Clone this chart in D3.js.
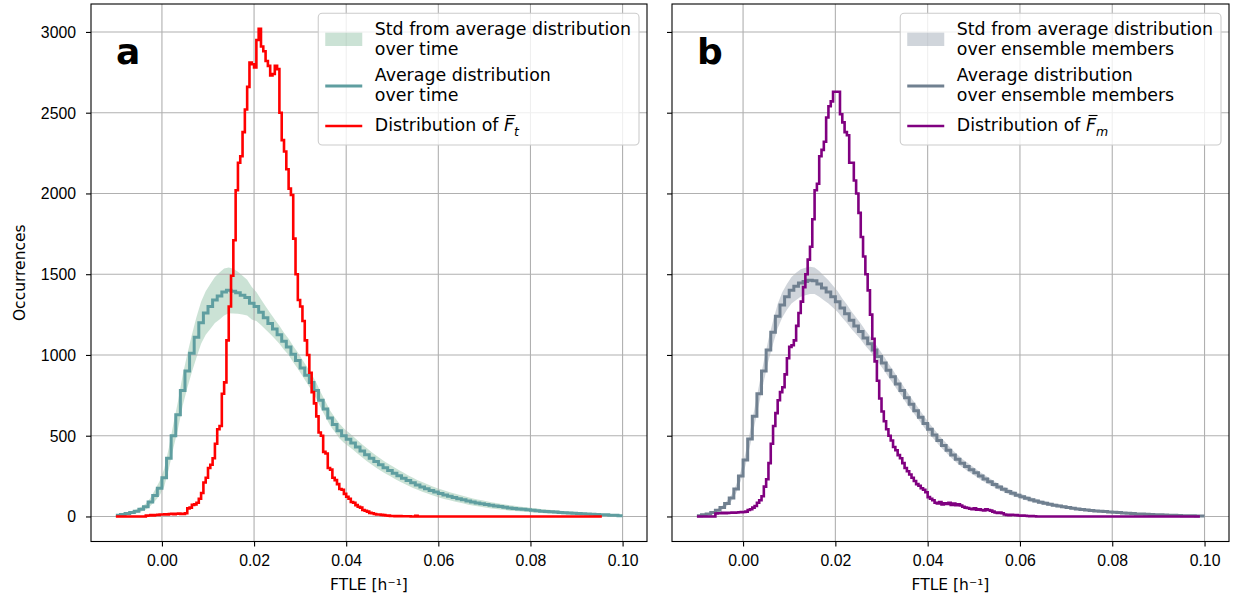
<!DOCTYPE html>
<html>
<head>
<meta charset="utf-8">
<script src="https://cdn.jsdelivr.net/npm/d3@7"></script>
<style>
  body { margin: 0; background: #fff; }
  svg { font-family: "DejaVu Sans", sans-serif; }
</style>
</head>
<body>
<svg id="chart" width="1235" height="599"></svg>
<script>
// histogram bins start at -0.01; fine bins for the single distributions, coarse for the averages
const binStart = -0.01;
const fineBin = 0.0005;
const coarseBin = 0.001;

// Distribution of F_t (panel a)
const redCounts = [
  0, 0, 0, 0, 0, 0, 0, 0, 0, 0,
  0, 0, 0, 5, 6, 8, 7, 9, 10, 12,
  12, 14, 13, 15, 16, 14, 17, 18, 16, 15,
  20, 50, 55, 72, 75, 85, 110, 145, 210, 240,
  300, 320, 360, 450, 540, 560, 760, 830, 1090, 1300,
  1490, 1710, 2020, 2190, 2230, 2380, 2520, 2660, 2810, 2800,
  2780, 2950, 3020, 2910, 2880, 2820, 2790, 2730, 2740, 2790,
  2770, 2500, 2330, 2260, 2150, 2030, 1990, 1720, 1500, 1340,
  1300, 1210, 1090, 1000, 890, 770, 700, 620, 520, 500,
  400, 390, 300, 290, 240, 225, 200, 170, 165, 140,
  122, 110, 90, 85, 70, 60, 55, 40, 35, 30,
  22, 20, 15, 12, 12, 10, 8, 6, 5, 3,
  3, 2, 2, 2, 1, 1, 1, 1, 0, 0,
  4, 0, 0, 0, 0, 0, 0, 0, 0, 0,
  0, 0, 0, 0, 0, 0, 0, 0, 0, 0,
  0, 0, 0, 0, 0, 0, 0, 0, 0, 0,
  0, 0, 0, 0, 0, 0, 0, 0, 0, 0,
  0, 0, 0, 0, 0, 0, 0, 0, 0, 0,
  0, 0, 0, 0, 0, 0, 0, 0, 0, 0,
  0, 0, 0, 0, 0, 0, 0, 0, 0, 0,
  0, 0, 0, 0, 0, 0, 0, 0, 0, 0,
  0
];

// Average distribution over time and its std (panel a)
const timeMean = [
  8, 12, 18, 25, 32, 45, 60, 90, 130, 175,
  240, 360, 500, 630, 780, 900, 1010, 1110, 1200, 1260,
  1300, 1340, 1365, 1390, 1400, 1395, 1385, 1370, 1355, 1320,
  1300, 1265, 1230, 1195, 1160, 1125, 1085, 1050, 1005, 965,
  920, 875, 830, 780, 720, 665, 610, 570, 530, 500,
  478, 455, 430, 405, 382, 360, 340, 320, 302, 285,
  268, 252, 237, 222, 208, 195, 183, 172, 161, 151,
  142, 133, 125, 117, 110, 103, 96, 90, 84, 79,
  74, 69, 65, 61, 57, 53, 50, 47, 44, 41,
  38, 36, 33, 31, 29, 27, 25, 23, 21, 20,
  18, 17, 15, 14, 12, 11, 10, 8, 7, 5
];
const timeStd = [
  5, 6, 8, 10, 12, 15, 18, 25, 35, 45,
  55, 65, 75, 85, 95, 105, 115, 125, 130, 135,
  140, 142, 145, 145, 142, 138, 130, 120, 110, 100,
  90, 80, 72, 65, 60, 56, 53, 51, 50, 50,
  50, 50, 50, 49, 48, 47, 46, 45, 45, 44,
  43, 42, 41, 40, 40, 39, 38, 37, 36, 35,
  35, 34, 33, 32, 31, 30, 30, 29, 28, 27,
  27, 26, 25, 25, 24, 23, 23, 22, 21, 21,
  20, 19, 19, 18, 17, 17, 16, 15, 15, 14,
  14, 13, 12, 12, 11, 11, 10, 10, 9, 9,
  8, 8, 7, 7, 6, 6, 5, 5, 4, 4
];

// Distribution of F_m (panel b)
const purpleCounts = [
  0, 0, 0, 0, 0, 0, 0, 0, 18, 20,
  20, 22, 21, 22, 23, 24, 24, 25, 26, 27,
  28, 30, 40, 45, 55, 65, 85, 100, 125, 185,
  230, 330, 450, 560, 640, 720, 770, 800, 880, 980,
  1050, 1060, 1090, 1180, 1260, 1330, 1420, 1500, 1590, 1670,
  1840, 2020, 2060, 2230, 2270, 2320, 2470, 2540, 2570, 2630,
  2630, 2630, 2490, 2440, 2380, 2360, 2190, 2190, 2080, 2000,
  1880, 1730, 1610, 1500, 1400, 1250, 1100, 960, 840, 730,
  650, 590, 540, 500, 470, 430, 410, 380, 360, 330,
  300, 280, 260, 240, 220, 200, 190, 175, 165, 150,
  120, 110, 100, 85, 80, 90, 75, 82, 78, 85,
  72, 80, 70, 75, 68, 60, 55, 52, 48, 45,
  50, 42, 45, 40, 38, 44, 40, 36, 30, 25,
  22, 24, 20, 12, 10, 8, 10, 9, 8, 6,
  5, 6, 4, 3, 2, 2, 1, 0, 0, 0,
  0, 0, 0, 0, 0, 0, 0, 0, 0, 0,
  0, 0, 0, 0, 0, 0, 0, 0, 0, 0,
  0, 0, 0, 0, 0, 0, 0, 0, 0, 0,
  0, 0, 0, 0, 0, 0, 0, 0, 0, 0,
  0, 0, 0, 0, 0, 0, 0, 0, 0, 0,
  0, 0, 0, 0, 0, 0, 0, 0, 0, 0,
  0, 0, 0, 0, 0, 0, 0, 0
];

// Average distribution over ensemble members and its std (panel b)
const memberMean = [
  5, 10, 16, 25, 38, 55, 80, 115, 170, 250,
  350, 480, 620, 760, 900, 1030, 1140, 1240, 1310, 1360,
  1400, 1425, 1445, 1455, 1462, 1460, 1440, 1415, 1390, 1360,
  1330, 1290, 1255, 1215, 1180, 1145, 1105, 1070, 1030, 990,
  950, 905, 865, 820, 780, 735, 695, 655, 615, 575,
  540, 505, 470, 440, 410, 380, 355, 330, 310, 290,
  270, 250, 232, 215, 198, 182, 168, 155, 143, 132,
  122, 113, 104, 96, 88, 82, 76, 70, 65, 60,
  55, 51, 47, 43, 40, 37, 34, 32, 30, 28,
  26, 24, 22, 20, 18, 16, 15, 14, 12, 11,
  10, 9, 8, 7, 6, 5, 5, 4, 3, 3
];
const memberStd = [
  4, 5, 6, 8, 10, 12, 15, 20, 25, 30,
  38, 45, 52, 58, 63, 68, 72, 75, 78, 80,
  82, 84, 85, 85, 84, 82, 80, 76, 72, 68,
  64, 60, 57, 54, 52, 50, 48, 46, 45, 44,
  43, 42, 41, 40, 39, 38, 37, 36, 35, 34,
  33, 32, 31, 30, 29, 28, 27, 26, 25, 24,
  23, 22, 21, 20, 19, 18, 17, 17, 16, 15,
  15, 14, 14, 13, 12, 12, 11, 11, 10, 10,
  9, 9, 9, 8, 8, 8, 7, 7, 7, 6,
  6, 6, 5, 5, 5, 5, 4, 4, 4, 4,
  3, 3, 3, 3, 3, 2, 2, 2, 2, 2
];

const xTicks = [0, 0.02, 0.04, 0.06, 0.08, 0.10];
const yTicks = [0, 500, 1000, 1500, 2000, 2500, 3000];

// turn bin counts into step points (last edge repeats the last count)
function toSteps(counts, width) {
  const pts = counts.map((c, i) => ({ x: binStart + i * width, y: c }));
  pts.push({ x: binStart + counts.length * width, y: counts[counts.length - 1] });
  return pts;
}

// band points sit on the bin centres
function toBand(mean, std, width) {
  return mean.map((m, i) => ({ x: binStart + (i + 0.5) * width, lo: m - std[i], hi: m + std[i] }));
}

class HistPanel {
  constructor(_config) {
    this.config = {
      left: _config.left,
      right: _config.right,
      top: 4,
      bottom: 541.5,
      letter: _config.letter,
      showYLabels: _config.showYLabels,
      bandColor: _config.bandColor,
      bandOpacity: _config.bandOpacity,
      meanColor: _config.meanColor,
      distColor: _config.distColor,
      legend: _config.legend
    };
    this.data = _config.data;
    this.initVis();
  }

  initVis() {
    let vis = this;
    vis.svg = d3.select('#chart');

    vis.x = d3.scaleLinear().domain([-0.0154, 0.1053]).range([vis.config.left, vis.config.right]);
    vis.y = d3.scaleLinear().domain([-155, 3173]).range([vis.config.bottom, vis.config.top]);

    vis.g = vis.svg.append('g');
    vis.renderVis();
    vis.renderAxes();
    vis.renderLegend();
  }

  renderVis() {
    let vis = this;
    const c = vis.config;

    const band = toBand(vis.data.mean, vis.data.std, coarseBin);
    const mean = toSteps(vis.data.mean, coarseBin);
    const dist = toSteps(vis.data.dist, fineBin);

    const area = d3.area()
      .x(d => vis.x(d.x))
      .y0(d => vis.y(d.lo))
      .y1(d => vis.y(d.hi));

    const line = d3.line()
      .x(d => vis.x(d.x))
      .y(d => vis.y(d.y))
      .curve(d3.curveStepAfter);

    vis.g.append('path')
      .attr('d', area(band))
      .attr('fill', c.bandColor)
      .attr('fill-opacity', c.bandOpacity);

    // grid
    vis.g.selectAll('.vgrid')
      .data(xTicks)
      .join('line')
      .attr('x1', d => vis.x(d)).attr('x2', d => vis.x(d))
      .attr('y1', c.top).attr('y2', c.bottom)
      .attr('stroke', '#b0b0b0').attr('stroke-width', 1.1);
    vis.g.selectAll('.hgrid')
      .data(yTicks)
      .join('line')
      .attr('x1', c.left).attr('x2', c.right)
      .attr('y1', d => vis.y(d)).attr('y2', d => vis.y(d))
      .attr('stroke', '#b0b0b0').attr('stroke-width', 1.1);

    vis.g.append('path')
      .attr('d', line(mean))
      .attr('fill', 'none')
      .attr('stroke', c.meanColor)
      .attr('stroke-width', 3);

    vis.g.append('path')
      .attr('d', line(dist))
      .attr('fill', 'none')
      .attr('stroke', c.distColor)
      .attr('stroke-width', 2.6);
  }

  renderAxes() {
    let vis = this;
    const c = vis.config;

    const xAxis = vis.g.append('g')
      .attr('transform', `translate(0,${c.bottom})`)
      .call(d3.axisBottom(vis.x).tickValues(xTicks).tickFormat(d3.format('.2f')).tickSize(5));
    xAxis.select('.domain').remove();
    xAxis.selectAll('line').attr('stroke', '#000').attr('stroke-width', 1.1);
    xAxis.selectAll('text')
      .attr('y', 24.5).attr('dy', 0)
      .style('font-size', '15.8px').attr('fill', '#000');

    const yAxis = vis.g.append('g')
      .attr('transform', `translate(${c.left},0)`)
      .call(d3.axisLeft(vis.y).tickValues(yTicks).tickSize(5).tickPadding(10)
        .tickFormat(d => c.showYLabels ? d : ''));
    yAxis.select('.domain').remove();
    yAxis.selectAll('line').attr('stroke', '#000').attr('stroke-width', 1.1);
    yAxis.selectAll('text')
      .attr('dy', '0.35em')
      .style('font-size', '15.8px').attr('fill', '#000');

    vis.g.append('rect')
      .attr('x', c.left).attr('y', c.top)
      .attr('width', c.right - c.left).attr('height', c.bottom - c.top)
      .attr('fill', 'none').attr('stroke', '#000').attr('stroke-width', 1.1);

    vis.g.append('text')
      .attr('x', (c.left + c.right) / 2)
      .attr('y', 590)
      .attr('text-anchor', 'middle')
      .style('font-size', '15.5px')
      .text('FTLE [h\u207B\u00B9]');

    if (c.showYLabels) {
      vis.g.append('text')
        .attr('transform', `translate(25,${(c.top + c.bottom) / 2}) rotate(-90)`)
        .attr('text-anchor', 'middle')
        .style('font-size', '15.5px')
        .text('Occurrences');
    }

    vis.g.append('text')
      .attr('x', c.left + 25)
      .attr('y', 64)
      .style('font-size', '36px')
      .style('font-weight', 'bold')
      .text(c.letter);
  }

  renderLegend() {
    let vis = this;
    const c = vis.config;
    const lg = vis.g.append('g');
    const box = lg.append('rect');
    const fs = '17.4px';

    const patchX = 0, textX = 49.5;
    const items = lg.append('g');

    // entry 1: std patch
    items.append('rect')
      .attr('x', patchX).attr('y', 32.7).attr('width', 37).attr('height', 13.3)
      .attr('fill', c.bandColor).attr('fill-opacity', c.bandOpacity);
    // entry 2: mean line
    items.append('line')
      .attr('x1', patchX).attr('x2', patchX + 37).attr('y1', 86).attr('y2', 86)
      .attr('stroke', c.meanColor).attr('stroke-width', 3);
    // entry 3: distribution line
    items.append('line')
      .attr('x1', patchX).attr('x2', patchX + 37).attr('y1', 126).attr('y2', 126)
      .attr('stroke', c.distColor).attr('stroke-width', 2.6);

    const lines = [
      [c.legend[0][0], 34.5], [c.legend[0][1], 54.5],
      [c.legend[1][0], 81], [c.legend[1][1], 101]
    ];
    const texts = items.selectAll('.lt')
      .data(lines)
      .join('text')
      .attr('x', textX).attr('y', d => d[1])
      .style('font-size', fs).attr('fill', '#000')
      .text(d => d[0]);

    const dt = items.append('text')
      .attr('x', textX).attr('y', 131)
      .style('font-size', fs).attr('fill', '#000');
    dt.append('tspan').text('Distribution of ');
    dt.append('tspan').style('font-style', 'italic').text('F');
    dt.append('tspan').style('font-style', 'italic').style('font-size', '12.5px')
      .attr('dy', 4.5).text(c.legend[2]);
    const fBox = dt.node().getExtentOfChar(16);
    items.append('line')
      .attr('x1', fBox.x + 2.5).attr('x2', fBox.x + fBox.width + 1.5)
      .attr('y1', fBox.y + 0.5).attr('y2', fBox.y + 0.5)
      .attr('stroke', '#000').attr('stroke-width', 1.1);

    let maxW = 0;
    texts.each(function () { maxW = Math.max(maxW, this.getComputedTextLength()); });
    maxW = Math.max(maxW, dt.node().getComputedTextLength());

    const boxW = textX + maxW + 15;
    const boxRight = c.right - 8;
    const boxLeft = boxRight - boxW;
    items.attr('transform', `translate(${boxLeft + 7},0)`);
    box.attr('x', boxLeft).attr('y', 13.3).attr('width', boxW).attr('height', 131.7)
      .attr('rx', 4)
      .attr('fill', '#fff').attr('fill-opacity', 0.8)
      .attr('stroke', '#cccccc').attr('stroke-width', 1.1);
  }
}

new HistPanel({
  left: 91, right: 647, letter: 'a', showYLabels: true,
  bandColor: '#2e8b57', bandOpacity: 0.25,
  meanColor: '#5f9ea0', distColor: '#ff0000',
  legend: [['Std from average distribution', 'over time'], ['Average distribution', 'over time'], 't'],
  data: { mean: timeMean, std: timeStd, dist: redCounts }
});

new HistPanel({
  left: 672, right: 1229, letter: 'b', showYLabels: false,
  bandColor: '#778899', bandOpacity: 0.35,
  meanColor: '#708090', distColor: '#800080',
  legend: [['Std from average distribution', 'over ensemble members'], ['Average distribution', 'over ensemble members'], 'm'],
  data: { mean: memberMean, std: memberStd, dist: purpleCounts }
});
</script>
</body>
</html>
